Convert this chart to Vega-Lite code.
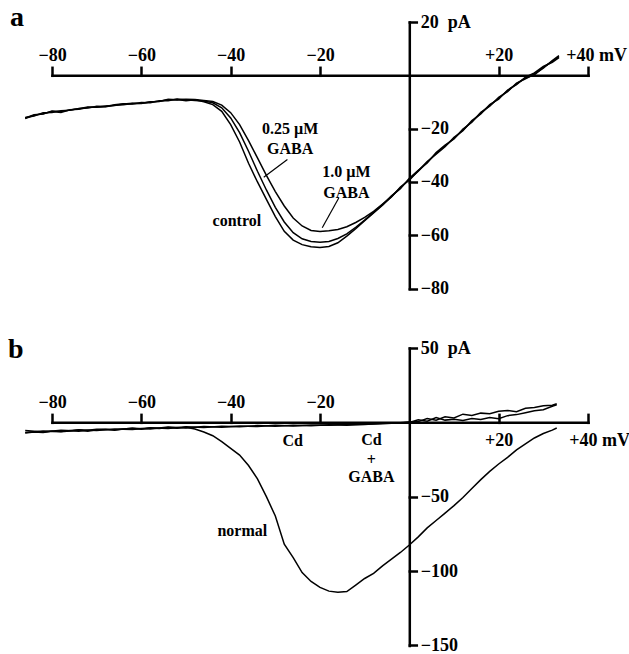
{
  "$schema": "https://vega.github.io/schema/vega-lite/v6.json",
  "padding": {"left": 8, "top": 3, "right": 0, "bottom": 0},
  "spacing": 38,
  "config": {
    "view": {"stroke": null},
    "font": "Liberation Serif",
    "axis": {
      "domain": true, "domainColor": "black", "domainWidth": 2.5, "domainCap": "square",
      "ticks": true, "tickColor": "black", "tickWidth": 2.5, "tickSize": 8, "tickCap": "square",
      "labelFont": "Liberation Serif", "labelFontSize": 18, "labelFontWeight": "bold", "labelColor": "black",
      "labelFlush": false, "labelOverlap": false, "grid": false, "title": null, "minExtent": 0
    }
  },
  "vconcat": [
    {
      "width": 536, "height": 266.6,
      "title": {"text": "a", "anchor": "start", "frame": "group", "dx": -42, "offset": -40.6, "baseline": "alphabetic", "fontSize": 28, "fontWeight": "bold", "font": "Liberation Serif", "color": "black"},
      "encoding": {
        "x": {"field": "mV", "type": "quantitative", "scale": {"domain": [-80, 40], "nice": false},
          "axis": {"orient": "top", "offset": -53.3, "values": [-80, -60, -40, -20, 20, 40], "labelPadding": 3,
            "labelExpr": "datum.value == 40 ? '+40 mV' : (datum.value > 0 ? '+' + datum.value : '\u2212' + abs(datum.value))",
            "labelOffset": {"condition": {"test": "datum.value == 40", "value": 8}, "value": 0}}},
        "y": {"field": "pA", "type": "quantitative", "scale": {"domain": [-80, 20], "nice": false},
          "axis": {"orient": "right", "offset": -178.7, "values": [20, -20, -40, -60, -80], "tickSize": 7, "labelPadding": 4,
            "labelExpr": "datum.value == 20 ? '20\u00a0\u00a0pA' : '\u2212' + abs(datum.value)"}}
      },
      "layer": [
        {
          "data": {"values": [
            {"trace":"control","mV":-86,"pA":-16.2},{"trace":"control","mV":-84,"pA":-15.0},{"trace":"control","mV":-82,"pA":-14.4},{"trace":"control","mV":-80,"pA":-13.6},{"trace":"control","mV":-78,"pA":-13.9},{"trace":"control","mV":-76,"pA":-12.9},{"trace":"control","mV":-74,"pA":-12.7},{"trace":"control","mV":-72,"pA":-12.1},{"trace":"control","mV":-70,"pA":-11.9},{"trace":"control","mV":-68,"pA":-11.8},{"trace":"control","mV":-66,"pA":-11.2},{"trace":"control","mV":-64,"pA":-11.0},{"trace":"control","mV":-62,"pA":-10.6},{"trace":"control","mV":-60,"pA":-10.5},{"trace":"control","mV":-58,"pA":-10.0},{"trace":"control","mV":-56,"pA":-9.7},{"trace":"control","mV":-54,"pA":-9.2},{"trace":"control","mV":-52,"pA":-9.1},{"trace":"control","mV":-50,"pA":-9.5},{"trace":"control","mV":-48,"pA":-9.2},{"trace":"control","mV":-46,"pA":-9.9},{"trace":"control","mV":-44,"pA":-11.0},{"trace":"control","mV":-42,"pA":-13.5},{"trace":"control","mV":-40,"pA":-18.5},{"trace":"control","mV":-38,"pA":-25},{"trace":"control","mV":-36,"pA":-33},{"trace":"control","mV":-34,"pA":-40},{"trace":"control","mV":-32,"pA":-46.5},{"trace":"control","mV":-30,"pA":-53},{"trace":"control","mV":-28,"pA":-58.5},{"trace":"control","mV":-26,"pA":-61.8},{"trace":"control","mV":-24,"pA":-63.5},{"trace":"control","mV":-22,"pA":-64.3},{"trace":"control","mV":-20,"pA":-64.6},{"trace":"control","mV":-18,"pA":-64.2},{"trace":"control","mV":-16,"pA":-62.8},{"trace":"control","mV":-14,"pA":-60.3},{"trace":"control","mV":-12,"pA":-57.5},{"trace":"control","mV":-10,"pA":-54.5},{"trace":"control","mV":-8,"pA":-51.6},{"trace":"control","mV":-6,"pA":-48.7},{"trace":"control","mV":-4,"pA":-45.5},{"trace":"control","mV":-2,"pA":-42.2},{"trace":"control","mV":0,"pA":-39},{"trace":"control","mV":2,"pA":-36},{"trace":"control","mV":4,"pA":-32.6},{"trace":"control","mV":6,"pA":-29.3},{"trace":"control","mV":8,"pA":-26.5},{"trace":"control","mV":10,"pA":-23.6},{"trace":"control","mV":12,"pA":-20.5},{"trace":"control","mV":14,"pA":-17.3},{"trace":"control","mV":16,"pA":-14.2},{"trace":"control","mV":18,"pA":-11.3},{"trace":"control","mV":20,"pA":-8.6},{"trace":"control","mV":22,"pA":-5.8},{"trace":"control","mV":24,"pA":-3.2},{"trace":"control","mV":26,"pA":-1.0},{"trace":"control","mV":28,"pA":0.2},{"trace":"control","mV":30,"pA":3.0},{"trace":"control","mV":32,"pA":5.2},{"trace":"control","mV":33.5,"pA":7.0},
            {"trace":"0.25","mV":-86,"pA":-15.8},{"trace":"0.25","mV":-84,"pA":-15.3},{"trace":"0.25","mV":-82,"pA":-14.0},{"trace":"0.25","mV":-80,"pA":-13.9},{"trace":"0.25","mV":-78,"pA":-13.3},{"trace":"0.25","mV":-76,"pA":-13.1},{"trace":"0.25","mV":-74,"pA":-12.4},{"trace":"0.25","mV":-72,"pA":-12.3},{"trace":"0.25","mV":-70,"pA":-11.6},{"trace":"0.25","mV":-68,"pA":-11.7},{"trace":"0.25","mV":-66,"pA":-11.0},{"trace":"0.25","mV":-64,"pA":-10.7},{"trace":"0.25","mV":-62,"pA":-10.8},{"trace":"0.25","mV":-60,"pA":-10.2},{"trace":"0.25","mV":-58,"pA":-10.3},{"trace":"0.25","mV":-56,"pA":-9.5},{"trace":"0.25","mV":-54,"pA":-9.5},{"trace":"0.25","mV":-52,"pA":-8.9},{"trace":"0.25","mV":-50,"pA":-9.2},{"trace":"0.25","mV":-48,"pA":-9.4},{"trace":"0.25","mV":-46,"pA":-9.6},{"trace":"0.25","mV":-44,"pA":-10.3},{"trace":"0.25","mV":-42,"pA":-12.2},{"trace":"0.25","mV":-40,"pA":-16},{"trace":"0.25","mV":-38,"pA":-21.5},{"trace":"0.25","mV":-36,"pA":-28.5},{"trace":"0.25","mV":-34,"pA":-36},{"trace":"0.25","mV":-32,"pA":-43},{"trace":"0.25","mV":-30,"pA":-49.5},{"trace":"0.25","mV":-28,"pA":-55},{"trace":"0.25","mV":-26,"pA":-59},{"trace":"0.25","mV":-24,"pA":-61.3},{"trace":"0.25","mV":-22,"pA":-62.3},{"trace":"0.25","mV":-20,"pA":-62.6},{"trace":"0.25","mV":-18,"pA":-62.3},{"trace":"0.25","mV":-16,"pA":-61.2},{"trace":"0.25","mV":-14,"pA":-59.5},{"trace":"0.25","mV":-12,"pA":-57},{"trace":"0.25","mV":-10,"pA":-54.3},{"trace":"0.25","mV":-8,"pA":-51.4},{"trace":"0.25","mV":-6,"pA":-48.5},{"trace":"0.25","mV":-4,"pA":-45.2},{"trace":"0.25","mV":-2,"pA":-42.5},{"trace":"0.25","mV":0,"pA":-38.6},{"trace":"0.25","mV":2,"pA":-35.6},{"trace":"0.25","mV":4,"pA":-32.9},{"trace":"0.25","mV":6,"pA":-29.0},{"trace":"0.25","mV":8,"pA":-26.2},{"trace":"0.25","mV":10,"pA":-23.9},{"trace":"0.25","mV":12,"pA":-20.2},{"trace":"0.25","mV":14,"pA":-17.6},{"trace":"0.25","mV":16,"pA":-13.9},{"trace":"0.25","mV":18,"pA":-11.6},{"trace":"0.25","mV":20,"pA":-8.3},{"trace":"0.25","mV":22,"pA":-6.1},{"trace":"0.25","mV":24,"pA":-2.9},{"trace":"0.25","mV":26,"pA":-1.3},{"trace":"0.25","mV":28,"pA":0.5},{"trace":"0.25","mV":30,"pA":2.7},{"trace":"0.25","mV":32,"pA":5.5},{"trace":"0.25","mV":33.5,"pA":7.4},
            {"trace":"1.0","mV":-86,"pA":-16.0},{"trace":"1.0","mV":-84,"pA":-14.8},{"trace":"1.0","mV":-82,"pA":-14.5},{"trace":"1.0","mV":-80,"pA":-13.4},{"trace":"1.0","mV":-78,"pA":-13.6},{"trace":"1.0","mV":-76,"pA":-13.0},{"trace":"1.0","mV":-74,"pA":-12.5},{"trace":"1.0","mV":-72,"pA":-11.9},{"trace":"1.0","mV":-70,"pA":-12.0},{"trace":"1.0","mV":-68,"pA":-11.5},{"trace":"1.0","mV":-66,"pA":-11.3},{"trace":"1.0","mV":-64,"pA":-10.8},{"trace":"1.0","mV":-62,"pA":-10.5},{"trace":"1.0","mV":-60,"pA":-10.6},{"trace":"1.0","mV":-58,"pA":-9.9},{"trace":"1.0","mV":-56,"pA":-9.8},{"trace":"1.0","mV":-54,"pA":-9.0},{"trace":"1.0","mV":-52,"pA":-9.3},{"trace":"1.0","mV":-50,"pA":-9.0},{"trace":"1.0","mV":-48,"pA":-9.1},{"trace":"1.0","mV":-46,"pA":-9.4},{"trace":"1.0","mV":-44,"pA":-9.8},{"trace":"1.0","mV":-42,"pA":-11.2},{"trace":"1.0","mV":-40,"pA":-14},{"trace":"1.0","mV":-38,"pA":-18.5},{"trace":"1.0","mV":-36,"pA":-24.5},{"trace":"1.0","mV":-34,"pA":-31},{"trace":"1.0","mV":-32,"pA":-37.5},{"trace":"1.0","mV":-30,"pA":-43.6},{"trace":"1.0","mV":-28,"pA":-49},{"trace":"1.0","mV":-26,"pA":-53.5},{"trace":"1.0","mV":-24,"pA":-56.5},{"trace":"1.0","mV":-22,"pA":-58.2},{"trace":"1.0","mV":-20,"pA":-58.6},{"trace":"1.0","mV":-18,"pA":-58.3},{"trace":"1.0","mV":-16,"pA":-57.8},{"trace":"1.0","mV":-14,"pA":-56.8},{"trace":"1.0","mV":-12,"pA":-55.2},{"trace":"1.0","mV":-10,"pA":-53.3},{"trace":"1.0","mV":-8,"pA":-51},{"trace":"1.0","mV":-6,"pA":-48.3},{"trace":"1.0","mV":-4,"pA":-45.6},{"trace":"1.0","mV":-2,"pA":-41.9},{"trace":"1.0","mV":0,"pA":-39.3},{"trace":"1.0","mV":2,"pA":-35.8},{"trace":"1.0","mV":4,"pA":-32.3},{"trace":"1.0","mV":6,"pA":-29.6},{"trace":"1.0","mV":8,"pA":-26.8},{"trace":"1.0","mV":10,"pA":-23.3},{"trace":"1.0","mV":12,"pA":-20.8},{"trace":"1.0","mV":14,"pA":-17.0},{"trace":"1.0","mV":16,"pA":-14.5},{"trace":"1.0","mV":18,"pA":-11.0},{"trace":"1.0","mV":20,"pA":-8.9},{"trace":"1.0","mV":22,"pA":-5.5},{"trace":"1.0","mV":24,"pA":-3.5},{"trace":"1.0","mV":26,"pA":-0.7},{"trace":"1.0","mV":28,"pA":0.9},{"trace":"1.0","mV":30,"pA":3.3},{"trace":"1.0","mV":32,"pA":4.9},{"trace":"1.0","mV":33.5,"pA":6.6}
          ]},
          "mark": {"type": "line", "color": "black", "strokeWidth": 1.5},
          "encoding": {"detail": {"field": "trace"}}
        },
        {
          "data": {"values": [
            {"mV": -27.3, "pA": -31.6, "mV2": -32.6, "pA2": -38.2},
            {"mV": -15.8, "pA": -46, "mV2": -19.5, "pA2": -57.2}
          ]},
          "mark": {"type": "rule", "color": "black", "strokeWidth": 1.2},
          "encoding": {"x2": {"field": "mV2"}, "y2": {"field": "pA2"}}
        },
        {
          "data": {"values": [
            {"label": "0.25 \u00b5M", "mV": -26.7, "pA": -20.2},
            {"label": "GABA", "mV": -26.7, "pA": -27.7},
            {"label": "1.0 \u00b5M", "mV": -14.1, "pA": -36.3},
            {"label": "GABA", "mV": -14.1, "pA": -44.2},
            {"label": "control", "mV": -38.6, "pA": -54.7}
          ]},
          "mark": {"type": "text", "font": "Liberation Serif", "fontSize": 16, "fontWeight": "bold", "color": "black", "baseline": "middle", "align": "center"},
          "encoding": {"text": {"field": "label"}}
        }
      ]
    },
    {
      "width": 536, "height": 297.4,
      "title": {"text": "b", "anchor": "start", "frame": "group", "dx": -44, "offset": -47.4, "baseline": "alphabetic", "fontSize": 28, "fontWeight": "bold", "font": "Liberation Serif", "color": "black"},
      "encoding": {
        "x": {"field": "mV", "type": "quantitative", "scale": {"domain": [-80, 40], "nice": false},
          "axis": {"orient": "top", "offset": -74.35, "values": [-80, -60, -40, -20, 20, 40],
            "labelExpr": "datum.value == 40 ? '+40 mV' : (datum.value > 0 ? '+' + datum.value : '\u2212' + abs(datum.value))",
            "labelPadding": {"condition": {"test": "datum.value > 0", "value": -17}, "value": 3},
            "labelBaseline": {"condition": {"test": "datum.value > 0", "value": "top"}, "value": "bottom"},
            "labelOffset": {"condition": {"test": "datum.value == 40", "value": 11}, "value": 0}}},
        "y": {"field": "pA", "type": "quantitative", "scale": {"domain": [-150, 50], "nice": false},
          "axis": {"orient": "right", "offset": -178.7, "values": [50, -50, -100, -150], "tickSize": 7, "labelPadding": 4,
            "labelExpr": "datum.value == 50 ? '50\u00a0\u00a0pA' : '\u2212' + abs(datum.value)"}}
      },
      "layer": [
        {
          "data": {"values": [
            {"trace":"normal","mV":-86,"pA":-7.2},{"trace":"normal","mV":-84,"pA":-6.5},{"trace":"normal","mV":-82,"pA":-6.9},{"trace":"normal","mV":-80,"pA":-6.0},{"trace":"normal","mV":-78,"pA":-6.4},{"trace":"normal","mV":-76,"pA":-5.8},{"trace":"normal","mV":-74,"pA":-5.2},{"trace":"normal","mV":-72,"pA":-5.9},{"trace":"normal","mV":-70,"pA":-5.0},{"trace":"normal","mV":-68,"pA":-4.6},{"trace":"normal","mV":-66,"pA":-5.3},{"trace":"normal","mV":-64,"pA":-4.4},{"trace":"normal","mV":-62,"pA":-4.0},{"trace":"normal","mV":-60,"pA":-4.6},{"trace":"normal","mV":-58,"pA":-3.8},{"trace":"normal","mV":-56,"pA":-4.2},{"trace":"normal","mV":-54,"pA":-3.5},{"trace":"normal","mV":-52,"pA":-3.9},{"trace":"normal","mV":-50,"pA":-3.3},{"trace":"normal","mV":-48,"pA":-4.5},{"trace":"normal","mV":-46,"pA":-6.5},{"trace":"normal","mV":-44,"pA":-9},{"trace":"normal","mV":-42,"pA":-13},{"trace":"normal","mV":-40,"pA":-17.5},{"trace":"normal","mV":-38,"pA":-22},{"trace":"normal","mV":-36,"pA":-29},{"trace":"normal","mV":-34,"pA":-38},{"trace":"normal","mV":-32,"pA":-50},{"trace":"normal","mV":-30,"pA":-63},{"trace":"normal","mV":-28,"pA":-82},{"trace":"normal","mV":-26,"pA":-91},{"trace":"normal","mV":-24,"pA":-101},{"trace":"normal","mV":-22,"pA":-107},{"trace":"normal","mV":-20,"pA":-111},{"trace":"normal","mV":-18,"pA":-113.5},{"trace":"normal","mV":-16,"pA":-114.2},{"trace":"normal","mV":-14,"pA":-113.8},{"trace":"normal","mV":-12,"pA":-109.5},{"trace":"normal","mV":-10,"pA":-105},{"trace":"normal","mV":-8,"pA":-101.5},{"trace":"normal","mV":-6,"pA":-96.5},{"trace":"normal","mV":-4,"pA":-92},{"trace":"normal","mV":-2,"pA":-87.5},{"trace":"normal","mV":0,"pA":-82.5},{"trace":"normal","mV":2,"pA":-77},{"trace":"normal","mV":4,"pA":-71},{"trace":"normal","mV":6,"pA":-66},{"trace":"normal","mV":8,"pA":-61},{"trace":"normal","mV":10,"pA":-56},{"trace":"normal","mV":12,"pA":-50.5},{"trace":"normal","mV":14,"pA":-44.5},{"trace":"normal","mV":16,"pA":-38.5},{"trace":"normal","mV":18,"pA":-33},{"trace":"normal","mV":20,"pA":-28},{"trace":"normal","mV":22,"pA":-23.5},{"trace":"normal","mV":24,"pA":-18.5},{"trace":"normal","mV":26,"pA":-14.5},{"trace":"normal","mV":28,"pA":-10.5},{"trace":"normal","mV":30,"pA":-7.5},{"trace":"normal","mV":32,"pA":-5.2},{"trace":"normal","mV":33,"pA":-3.8},
            {"trace":"Cd","mV":-86,"pA":-6.8},{"trace":"Cd","mV":-82,"pA":-5.9},{"trace":"Cd","mV":-78,"pA":-6.2},{"trace":"Cd","mV":-74,"pA":-5.0},{"trace":"Cd","mV":-70,"pA":-5.4},{"trace":"Cd","mV":-66,"pA":-4.4},{"trace":"Cd","mV":-62,"pA":-4.8},{"trace":"Cd","mV":-58,"pA":-3.6},{"trace":"Cd","mV":-54,"pA":-4.1},{"trace":"Cd","mV":-50,"pA":-3.0},{"trace":"Cd","mV":-46,"pA":-3.4},{"trace":"Cd","mV":-42,"pA":-2.6},{"trace":"Cd","mV":-38,"pA":-3.0},{"trace":"Cd","mV":-34,"pA":-2.2},{"trace":"Cd","mV":-30,"pA":-2.6},{"trace":"Cd","mV":-26,"pA":-1.9},{"trace":"Cd","mV":-22,"pA":-2.3},{"trace":"Cd","mV":-18,"pA":-1.6},{"trace":"Cd","mV":-14,"pA":-1.9},{"trace":"Cd","mV":-10,"pA":-1.2},{"trace":"Cd","mV":-6,"pA":-0.9},{"trace":"Cd","mV":-2,"pA":-0.3},{"trace":"Cd","mV":0,"pA":0.2},{"trace":"Cd","mV":2,"pA":0.5},{"trace":"Cd","mV":4,"pA":2.5},{"trace":"Cd","mV":6,"pA":1.5},{"trace":"Cd","mV":8,"pA":3.8},{"trace":"Cd","mV":10,"pA":3.0},{"trace":"Cd","mV":12,"pA":5.5},{"trace":"Cd","mV":14,"pA":4.6},{"trace":"Cd","mV":16,"pA":6.2},{"trace":"Cd","mV":18,"pA":5.8},{"trace":"Cd","mV":20,"pA":7.5},{"trace":"Cd","mV":22,"pA":8.0},{"trace":"Cd","mV":24,"pA":7.2},{"trace":"Cd","mV":26,"pA":9.5},{"trace":"Cd","mV":28,"pA":10.0},{"trace":"Cd","mV":30,"pA":11.2},{"trace":"Cd","mV":32,"pA":11.5},{"trace":"Cd","mV":33,"pA":12.5},
            {"trace":"CdGABA","mV":-86,"pA":-5.5},{"trace":"CdGABA","mV":-82,"pA":-6.5},{"trace":"CdGABA","mV":-78,"pA":-5.3},{"trace":"CdGABA","mV":-74,"pA":-5.9},{"trace":"CdGABA","mV":-70,"pA":-4.6},{"trace":"CdGABA","mV":-66,"pA":-5.0},{"trace":"CdGABA","mV":-62,"pA":-4.0},{"trace":"CdGABA","mV":-58,"pA":-4.4},{"trace":"CdGABA","mV":-54,"pA":-3.2},{"trace":"CdGABA","mV":-50,"pA":-3.8},{"trace":"CdGABA","mV":-46,"pA":-2.8},{"trace":"CdGABA","mV":-42,"pA":-3.3},{"trace":"CdGABA","mV":-38,"pA":-2.4},{"trace":"CdGABA","mV":-34,"pA":-2.8},{"trace":"CdGABA","mV":-30,"pA":-2.0},{"trace":"CdGABA","mV":-26,"pA":-2.4},{"trace":"CdGABA","mV":-22,"pA":-1.7},{"trace":"CdGABA","mV":-18,"pA":-2.0},{"trace":"CdGABA","mV":-14,"pA":-1.3},{"trace":"CdGABA","mV":-10,"pA":-1.5},{"trace":"CdGABA","mV":-6,"pA":-0.6},{"trace":"CdGABA","mV":-2,"pA":-0.5},{"trace":"CdGABA","mV":0,"pA":0.0},{"trace":"CdGABA","mV":2,"pA":1.8},{"trace":"CdGABA","mV":4,"pA":0.8},{"trace":"CdGABA","mV":6,"pA":3.2},{"trace":"CdGABA","mV":8,"pA":1.5},{"trace":"CdGABA","mV":10,"pA":2.0},{"trace":"CdGABA","mV":12,"pA":1.2},{"trace":"CdGABA","mV":14,"pA":2.6},{"trace":"CdGABA","mV":16,"pA":2.0},{"trace":"CdGABA","mV":18,"pA":3.3},{"trace":"CdGABA","mV":20,"pA":2.5},{"trace":"CdGABA","mV":22,"pA":4.5},{"trace":"CdGABA","mV":24,"pA":5.2},{"trace":"CdGABA","mV":26,"pA":6.5},{"trace":"CdGABA","mV":28,"pA":7.8},{"trace":"CdGABA","mV":30,"pA":8.5},{"trace":"CdGABA","mV":32,"pA":10.8},{"trace":"CdGABA","mV":33,"pA":11.8}
          ]},
          "mark": {"type": "line", "color": "black", "strokeWidth": 1.5},
          "encoding": {"detail": {"field": "trace"}}
        },
        {
          "data": {"values": [
            {"label": "Cd", "mV": -26.1, "pA": -12.3},
            {"label": "Cd", "mV": -8.5, "pA": -11.7},
            {"label": "+", "mV": -8.5, "pA": -25.5},
            {"label": "GABA", "mV": -8.5, "pA": -37},
            {"label": "normal", "mV": -37.4, "pA": -73.4}
          ]},
          "mark": {"type": "text", "font": "Liberation Serif", "fontSize": 16, "fontWeight": "bold", "color": "black", "baseline": "middle", "align": "center"},
          "encoding": {"text": {"field": "label"}}
        }
      ]
    }
  ]
}
